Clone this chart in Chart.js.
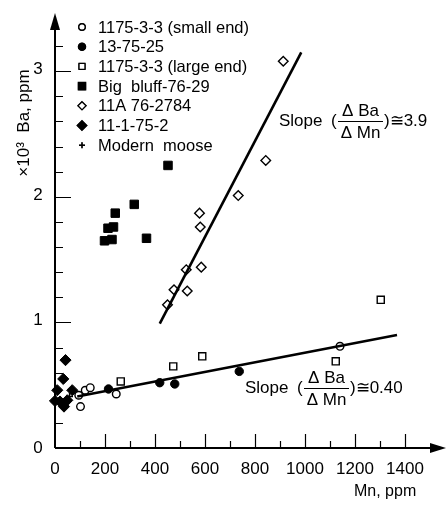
<!DOCTYPE html>
<html>
<head>
<meta charset="utf-8">
<script src="https://cdn.jsdelivr.net/npm/chart.js@4.4.0/dist/chart.umd.min.js"></script>
<style>
  html, body { margin: 0; padding: 0; background: #fff; }
  #wrap { width: 447px; height: 505px; position: relative; }
</style>
</head>
<body>
<div id="wrap"><canvas id="c" width="447" height="505"></canvas></div>
<script>
// Mn (ppm) vs Ba (x10^3 ppm)
var smallEnd   = [[95,0.42],[102,0.33],[121,0.46],[141,0.48],[245,0.43],[1140,0.81]];
var s137525    = [[214,0.47],[419,0.52],[479,0.51],[737,0.61]];
var largeEnd   = [[263,0.53],[473,0.65],[589,0.73],[1123,0.69],[1303,1.18]];
var bigBluff   = [[198,1.65],[212,1.75],[228,1.66],[234,1.76],[241,1.87],[317,1.94],[366,1.67],[452,2.25]];
var s11A762784 = [[450,1.14],[476,1.26],[529,1.25],[525,1.42],[585,1.44],[581,1.76],[578,1.87],[733,2.01],[843,2.29],[913,3.08]];
var s111752    = [[0,0.375],[9,0.46],[20,0.37],[33,0.55],[36,0.33],[42,0.70],[49,0.38],[69,0.46]];
var moose      = [[58,0.41]];

// fitted lines (endpoints)
var lowLine  = [[89,0.41],[1368,0.90]];
var steepLine = [[419,0.99],[985,3.15]];

var xTickLabels = [0,200,400,600,800,1000,1200,1400];
var xMinor = [100,300,500,700,900,1100,1300];
var yTickLabels = [0,1,2,3];
var yMinor = [0.2,0.4,0.6,0.8,1.2,1.4,1.6,1.8,2.2,2.4,2.6,2.8,3.2];

var FONT = "'Liberation Sans', Arial, sans-serif";

function pts(arr) { return arr.map(function(p) { return { x: p[0], y: p[1] }; }); }

var seriesStyle = [
  { label: '1175-3-3 (small end)', data: smallEnd,   style: 'circle',  r: 3.8, fill: '#fff', bw: 1.4 },
  { label: '13-75-25',             data: s137525,    style: 'circle',  r: 4.2, fill: '#000', bw: 1 },
  { label: '1175-3-3 (large end)', data: largeEnd,   style: 'rect',    r: 5,   fill: '#fff', bw: 1.4 },
  { label: 'Big  bluff-76-29',     data: bigBluff,   style: 'rect',    r: 6,   fill: '#000', bw: 1 },
  { label: '11A 76-2784',          data: s11A762784, style: 'rectRot', r: 4.8, fill: '#fff', bw: 1.4 },
  { label: '11-1-75-2',            data: s111752,    style: 'rectRot', r: 5.6, fill: '#000', bw: 1 },
  { label: 'Modern  moose',        data: moose,      style: 'cross',   r: 3.5, fill: '#000', bw: 1.4 }
];

var datasets = [];
[lowLine, steepLine].forEach(function(l) {
  datasets.push({
    type: 'scatter', data: pts(l), showLine: true, pointRadius: 0,
    borderColor: '#000', borderWidth: 2.6, clip: false
  });
});
seriesStyle.forEach(function(s) {
  datasets.push({
    type: 'scatter', label: s.label, data: pts(s.data),
    pointStyle: s.style, pointRadius: s.r, pointHoverRadius: s.r,
    pointBackgroundColor: s.fill, pointBorderColor: '#000', pointBorderWidth: s.bw,
    clip: false
  });
});

var axesPlugin = {
  id: 'axesPlugin',
  afterDatasetsDraw: function(chart) {
    var ctx = chart.ctx;
    var xs = chart.scales.x, ys = chart.scales.y;
    var x0 = xs.getPixelForValue(0), y0 = ys.getPixelForValue(0);
    ctx.save();
    ctx.strokeStyle = '#000';
    ctx.fillStyle = '#000';

    // axis lines
    ctx.lineWidth = 2;
    ctx.beginPath();
    ctx.moveTo(x0, y0); ctx.lineTo(x0, 26);
    ctx.moveTo(x0, y0); ctx.lineTo(434, y0);
    ctx.stroke();
    // arrow heads
    ctx.beginPath();
    ctx.moveTo(x0, 13); ctx.lineTo(x0 - 5, 30); ctx.lineTo(x0 + 5, 30); ctx.closePath(); ctx.fill();
    ctx.beginPath();
    ctx.moveTo(446, y0); ctx.lineTo(430, y0 - 5); ctx.lineTo(430, y0 + 5); ctx.closePath(); ctx.fill();

    // ticks
    ctx.lineWidth = 1.2;
    ctx.beginPath();
    xTickLabels.forEach(function(v) {
      if (v === 0) return;
      var px = Math.round(xs.getPixelForValue(v)) + 0.5;
      ctx.moveTo(px, y0); ctx.lineTo(px, y0 - 14);
    });
    xMinor.forEach(function(v) {
      var px = Math.round(xs.getPixelForValue(v)) + 0.5;
      ctx.moveTo(px, y0); ctx.lineTo(px, y0 - 7);
    });
    yTickLabels.forEach(function(v) {
      if (v === 0) return;
      var py = Math.round(ys.getPixelForValue(v)) + 0.5;
      ctx.moveTo(x0, py); ctx.lineTo(x0 + 16, py);
    });
    yMinor.forEach(function(v) {
      var py = Math.round(ys.getPixelForValue(v)) + 0.5;
      ctx.moveTo(x0, py); ctx.lineTo(x0 + 8, py);
    });
    ctx.stroke();

    // tick labels
    ctx.font = '17px ' + FONT;
    ctx.textAlign = 'center';
    ctx.textBaseline = 'middle';
    xTickLabels.forEach(function(v) {
      ctx.fillText(String(v), xs.getPixelForValue(v), 469);
    });
    yTickLabels.forEach(function(v) {
      ctx.fillText(String(v), 38, ys.getPixelForValue(v) - (v === 0 ? 0 : 2));
    });

    // axis titles
    ctx.font = '16px ' + FONT;
    ctx.textAlign = 'left';
    ctx.fillText('Mn, ppm', 354, 492);
    ctx.save();
    ctx.translate(24, 123);
    ctx.rotate(-Math.PI / 2);
    ctx.textAlign = 'center';
    ctx.font = '17px ' + FONT;
    ctx.fillText('\u00d710\u00b3  Ba, ppm', 0, 0);
    ctx.restore();

    // legend
    ctx.font = '16.5px ' + FONT;
    ctx.textAlign = 'left';
    seriesStyle.forEach(function(s, i) {
      var ly = 27 + i * 19.7;
      Chart.helpers.drawPoint(ctx, {
        pointStyle: s.style, radius: s.r * 0.85, borderWidth: s.bw
      }, 82, ly);
      ctx.fillStyle = s.fill;
      ctx.strokeStyle = '#000';
      ctx.lineWidth = s.bw;
      ctx.fill();
      ctx.stroke();
      ctx.fillStyle = '#000';
      ctx.fillText(s.label, 98, ly + 1);
    });

    // slope annotations
    drawSlope(ctx, 279, 121, '\u22453.9');
    drawSlope(ctx, 245, 388, '\u22450.40');
    ctx.restore();
  }
};

function drawSlope(ctx, x, y, tail) {
  ctx.font = '17px ' + FONT;
  ctx.textAlign = 'left';
  ctx.textBaseline = 'middle';
  ctx.fillStyle = '#000';
  ctx.fillText('Slope', x, y);
  ctx.fillText('(', x + 52, y);
  var fx = x + 59, fw = 45;
  ctx.lineWidth = 1;
  ctx.beginPath();
  ctx.moveTo(fx, y + 0.5); ctx.lineTo(fx + fw, y + 0.5);
  ctx.stroke();
  ctx.textAlign = 'center';
  ctx.fillText('\u0394 Ba', fx + fw / 2, y - 10);
  ctx.fillText('\u0394 Mn', fx + fw / 2, y + 12);
  ctx.textAlign = 'left';
  ctx.fillText(')' + tail, fx + fw + 1, y);
}

new Chart(document.getElementById('c').getContext('2d'), {
  type: 'scatter',
  data: { datasets: datasets },
  options: {
    responsive: false,
    animation: false,
    layout: { padding: { left: 55, top: 16, right: 4, bottom: 57 } },
    plugins: { legend: { display: false }, tooltip: { enabled: false } },
    scales: {
      x: { type: 'linear', min: 0, max: 1540, display: false },
      y: { type: 'linear', min: 0, max: 3.44, display: false }
    }
  },
  plugins: [axesPlugin]
});
</script>
</body>
</html>
